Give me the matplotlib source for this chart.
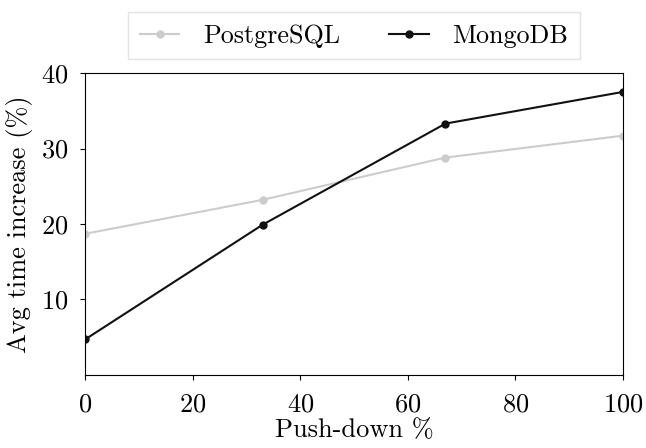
import matplotlib
matplotlib.use("Agg")
import matplotlib.pyplot as plt

plt.rcParams['font.family'] = ['cmr10', 'DejaVu Serif']
plt.rcParams['axes.formatter.use_mathtext'] = True
plt.rcParams['mathtext.fontset'] = 'cm'

pushdown = [0, 33, 67, 100]
postgres = [18.7, 23.2, 28.8, 31.7]
mongo = [4.7, 19.9, 33.3, 37.5]
xticks = [0, 20, 40, 60, 80, 100]
yticks = [10, 20, 30, 40]

fig = plt.figure(figsize=(6.46, 4.48), dpi=100)
ax = fig.add_axes([0.1316, 0.163, 0.8328, 0.674])
ax.plot(pushdown, postgres, color='#cccccc', marker='o', markersize=5, lw=1.5, label='PostgreSQL')
ax.plot(pushdown, mongo, color='#111111', marker='o', markersize=5, lw=1.5, label='MongoDB')
ax.set_xlim(0, 100)
ax.set_ylim(0, 40)
ax.set_xticks(xticks)
ax.set_yticks(yticks)
ax.tick_params(labelsize=19)
ax.tick_params(axis='x', pad=9)
ax.tick_params(axis='y', pad=8.5)
ax.set_xlabel('Push-down %', fontsize=19, labelpad=2)
ax.set_ylabel('Avg time increase (%)', fontsize=19, labelpad=6)
leg = ax.legend(loc='lower center', bbox_to_anchor=(0.5, 1.045), ncol=2, fontsize=18.8,
                frameon=True, fancybox=False, edgecolor='#dddddd', handlelength=1.5,
                handletextpad=0.9, columnspacing=1.9, borderaxespad=0, borderpad=0.45)
fig.savefig('out.png', dpi=100)
